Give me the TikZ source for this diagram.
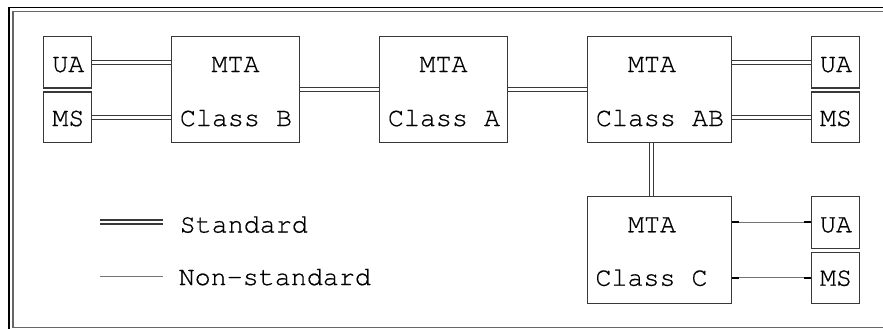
\documentclass[tikz,border=0pt]{standalone}
\usepackage{fontspec}
\newfontfamily\diagmono{texgyrecursor-regular.otf}[FakeBold=0.6]
\definecolor{ink}{gray}{0.22}
\definecolor{rim}{gray}{0.4}
\pgfdeclarelayer{bg}
\pgfsetlayers{bg,main}
\begin{document}
\begin{tikzpicture}[x=1pt,y=-1pt,
  box/.style={draw=ink, line width=1.1pt, inner sep=0pt, rectangle, fill=white},
  lbl/.style={font=\fontsize{26.7}{30}\diagmono, inner sep=0pt, anchor=base, text=black},
  key/.style={lbl, anchor=base west},
  std/.style={draw=ink, line width=1.1pt, double=white, double distance=2.9pt},
  nonstd/.style={draw=ink!70, line width=1.1pt},
  stub/.style={draw=black, line width=2pt}]
\useasboundingbox (0,0) rectangle (883,329);

% outer frame
\draw[black, line width=1.2pt] (9,329) -- (9,7.3) -- (883,7.3);
\draw[rim, line width=1.2pt] (883,11.7) -- (13,11.7) -- (13,327.5) -- (883,327.5);

% left UA / MS pair
\node[box, minimum width=48pt, minimum height=51.5pt] (ua1) at (67.5,62.25) {};
\node[box, minimum width=48pt, minimum height=50.5pt] (ms1) at (67.5,117.25) {};
% MTA boxes
\node[box, minimum width=128pt, minimum height=106pt] (B) at (235.5,89.5) {};
\node[box, minimum width=128pt, minimum height=106pt] (A) at (443.5,89.5) {};
\node[box, minimum width=144pt, minimum height=106pt] (AB) at (659.5,89.5) {};
\node[box, minimum width=144pt, minimum height=107pt] (C) at (659.5,250) {};
% right UA / MS pairs
\node[box, minimum width=48pt, minimum height=51.5pt] (ua2) at (835.5,62.25) {};
\node[box, minimum width=48pt, minimum height=50.5pt] (ms2) at (835.5,117.25) {};
\node[box, minimum width=48pt, minimum height=51.8pt] (ua3) at (835.5,222.4) {};
\node[box, minimum width=48pt, minimum height=51.2pt] (ms3) at (835.5,277.9) {};

% labels
\node[lbl] (ua1t) at (68.3,72) {UA};
\node[lbl] (ms1t) at (68.3,126) {MS};
\node[lbl] (Bt1) at (235.5,72) {MTA};
\node[lbl] (Bt2) at (236,126) {Class B};
\node[lbl] (At1) at (443.5,72) {MTA};
\node[lbl] (At2) at (444,126) {Class A};
\node[lbl] (ABt1) at (652,72) {MTA};
\node[lbl] (ABt2) at (660,126) {Class AB};
\node[lbl] (ua2t) at (836,72) {UA};
\node[lbl] (ms2t) at (836,126) {MS};
\node[lbl] (Ct1) at (652,232.3) {MTA};
\node[lbl] (Ct2) at (651.5,285.7) {Class C};
\node[lbl] (ua3t) at (836,232.3) {UA};
\node[lbl] (ms3t) at (836,285.7) {MS};

% connectors
\begin{pgfonlayer}{bg}
  \draw[std] (ua1.east) -- (ua1.east -| B.west);
  \draw[std] (ms1.east) -- (ms1.east -| B.west);
  \draw[std] (B.east) -- (A.west);
  \draw[std] (A.east) -- (AB.west);
  \draw[std] (ua2.west -| AB.east) -- (ua2.west);
  \draw[std] (ms2.west -| AB.east) -- (ms2.west);
  \draw[std] ([xshift=-8pt]AB.south) -- ([xshift=-8pt]AB.south |- C.north);
  \draw[nonstd] (ua3.west -| C.east) -- (ua3.west);
  \draw[nonstd] (ms3.west -| C.east) -- (ms3.west);
\end{pgfonlayer}
\draw[stub] (ua3.west -| C.east) -- ++(7,0);
\draw[stub] (ua3.west) -- ++(-7,0);
\draw[stub] (ms3.west -| C.east) -- ++(7,0);
\draw[stub] (ms3.west) -- ++(-7,0);

% legend
\coordinate (k1a) at (100,222);
\coordinate (k1b) at (163.3,222);
\coordinate (k2a) at (100,276.7);
\coordinate (k2b) at (163.3,276.7);
\draw[std] (k1a) -- (k1b);
\draw[nonstd] (k2a) -- (k2b);
\node[key] (k1t) at (179.5,232.5) {Standard};
\node[key] (k2t) at (178.5,285) {Non-standard};
\end{tikzpicture}
\end{document}
